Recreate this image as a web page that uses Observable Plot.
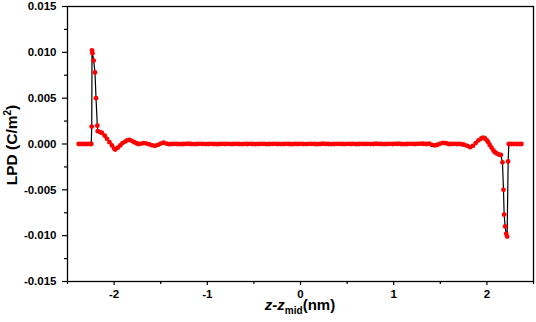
<!DOCTYPE html>
<html><head><meta charset="utf-8">
<script src="https://cdn.jsdelivr.net/npm/d3@7"></script>
<script src="https://cdn.jsdelivr.net/npm/@observablehq/plot@0.6"></script>
<style>body{margin:0;background:#fff}</style>
</head><body><div id="chart"></div>
<script>
// z - z_mid (nm)
const zLeft = [-2.38,-2.35,-2.32,-2.29,-2.26,-2.245,-2.240,-2.237,-2.232,-2.219,-2.205,-2.194,-2.180,-2.175,-2.15,-2.13,-2.10,-2.076,-2.05,-2.023,-2.00,-1.988,-1.96,-1.934,-1.91,-1.881,-1.86,-1.835,-1.81,-1.785,-1.76,-1.739,-1.71,-1.68,-1.65,-1.62,-1.59,-1.56,-1.53,-1.50,-1.47,-1.44,-1.41,-1.38];
const lpdLeft = [0,0,0,0,0,0,0.0019,0.0102,0.0099,0.0091,0.0078,0.0050,0.0020,0.0014,0.0013,0.0012,0.0009,0.00057,0.0002,-0.00016,-0.0005,-0.0006,-0.0004,-0.00016,0.0001,0.00027,0.0004,0.00046,0.00035,0.0002,0.00008,0,0.00005,0.0001,0.00005,-0.00005,-0.00015,-0.0002,-0.0001,0.00005,0.00015,0.00005,-0.00002,0];
const zMid = [-1.35,-1.32,-1.29,-1.26,-1.23,-1.20,-1.17,-1.14,-1.11,-1.08,-1.05,-1.02,-0.99,-0.96,-0.93,-0.90,-0.87,-0.84,-0.81,-0.78,-0.75,-0.72,-0.69,-0.66,-0.63,-0.60,-0.57,-0.54,-0.51,-0.48,-0.45,-0.42,-0.39,-0.36,-0.33,-0.30,-0.27,-0.24,-0.21,-0.18,-0.15,-0.12,-0.09,-0.06,-0.03,0,0.03,0.06,0.09,0.12,0.15,0.18,0.21,0.24,0.27,0.30,0.33,0.36,0.39,0.42,0.45,0.48,0.51,0.54,0.57,0.60,0.63,0.66,0.69,0.72,0.75,0.78,0.81,0.84,0.87,0.90,0.93,0.96,0.99,1.02,1.05,1.08,1.11,1.14,1.17,1.20,1.23,1.26,1.29,1.32];
const lpdMid = [0.00002,0,-0.00002,0,0.00001,0.00003,0,-0.00002,0,0.00002,0.00001,-0.00001,0,0.00002,0,-0.00002,0,0.00001,0,0.00002,-0.00001,0,0.00002,0,-0.00002,0.00001,0,0.00002,0,-0.00001,0,0.00002,0.00001,-0.00002,0,0.00001,0.00002,0,-0.00001,0,0.00002,0,-0.00002,0.00001,0,0.00002,0,-0.00001,0.00001,0.00002,0,-0.00002,0,0.00003,0.00001,0,-0.00002,0,0.00002,0.00001,0,-0.00001,0.00002,0,0.00001,-0.00002,0,0.00002,0,0.00001,-0.00001,0,0.00003,0.00001,0,-0.00002,0,0.00002,0,0.00001,0.00003,0,-0.00002,0,0.00002,0.00001,0,0.00002,0.00004,0.00003];
const zRight = [1.35,1.38,1.41,1.44,1.47,1.50,1.53,1.56,1.59,1.62,1.65,1.68,1.71,1.74,1.76,1.79,1.82,1.85,1.88,1.91,1.94,1.961,1.98,2.00,2.014,2.03,2.05,2.07,2.086,2.11,2.13,2.15,2.167,2.178,2.185,2.196,2.207,2.217,2.228,2.235,2.26,2.29,2.32,2.35,2.37];
const lpdRight = [0,0.00005,-0.0001,-0.00015,-0.00008,0.00005,0.00013,0.00008,0,0,0.00002,0,0,-0.00005,-0.0001,-0.0002,-0.00035,-0.0002,0.0001,0.0004,0.0006,0.00068,0.0006,0.0004,0.0002,-0.0001,-0.0004,-0.0007,-0.0009,-0.00105,-0.00115,-0.0012,-0.0020,-0.0050,-0.0077,-0.0090,-0.0098,-0.0101,-0.0019,0,0,0,0,0,0];

const xMajor = [-2,-1,0,1,2];
const xMinor = [-2.5,-1.5,-0.5,0.5,1.5,2.5];
const yMajor = [-0.015,-0.010,-0.005,0,0.005,0.010,0.015];
const yMinor = [-0.0125,-0.0075,-0.0025,0.0025,0.0075,0.0125];

const z = [...zLeft, ...zMid, ...zRight];
const lpd = [...lpdLeft, ...lpdMid, ...lpdRight];
const data = z.map((v, i) => ({z: v, lpd: lpd[i]}));

const font = "'Liberation Sans', Arial, sans-serif";
const svg = Plot.plot({
  width: 536, height: 322,
  marginLeft: 67, marginRight: 3, marginTop: 6, marginBottom: 41,
  style: {fontFamily: font, fontSize: "11.5px", fontWeight: "bold", color: "black", background: "white"},
  x: {domain: [-2.5, 2.5]},
  y: {domain: [-0.015, 0.015]},
  marks: [
    Plot.axisX(xMinor, {tickSize: 3, tickFormat: () => "", label: null, strokeWidth: 1.2}),
    Plot.axisX(xMajor, {tickSize: 4, tickPadding: 4, tickFormat: d => String(d), label: null, strokeWidth: 1.2, fontSize: 11.5}),
    Plot.axisY(yMinor, {tickSize: 3, tickFormat: () => "", label: null, strokeWidth: 1.2}),
    Plot.axisY(yMajor, {tickSize: 5, tickPadding: 6, tickFormat: d => d.toFixed(3), label: null, strokeWidth: 1.2, fontSize: 11.5}),
    Plot.line(data, {x: "z", y: "lpd", stroke: "black", strokeWidth: 1.2}),
    Plot.dot(data, {x: "z", y: "lpd", r: 2.4, fill: "#ff0000", stroke: "none"}),
    Plot.frame({stroke: "black", strokeWidth: 1.3})
  ]
});

const s = d3.select(svg);
const yl = s.append("text")
  .attr("transform", "translate(17,145) rotate(-90)")
  .attr("text-anchor", "middle")
  .style("font-family", font).style("font-weight", "bold").style("font-size", "15.5px").attr("fill", "black");
yl.append("tspan").text("LPD (C/m");
yl.append("tspan").attr("dy", "-6").style("font-size", "10px").text("2");
yl.append("tspan").attr("dy", "6").text(")");

const xl = s.append("text")
  .attr("x", 300).attr("y", 310)
  .attr("text-anchor", "middle")
  .style("font-family", font).style("font-weight", "bold").style("font-size", "15px").attr("fill", "black");
xl.append("tspan").style("font-style", "italic").text("z-z");
xl.append("tspan").attr("dy", "4").style("font-size", "10px").text("mid");
xl.append("tspan").attr("dy", "-4").text("(nm)");

document.getElementById("chart").appendChild(svg);
</script>
</body></html>
